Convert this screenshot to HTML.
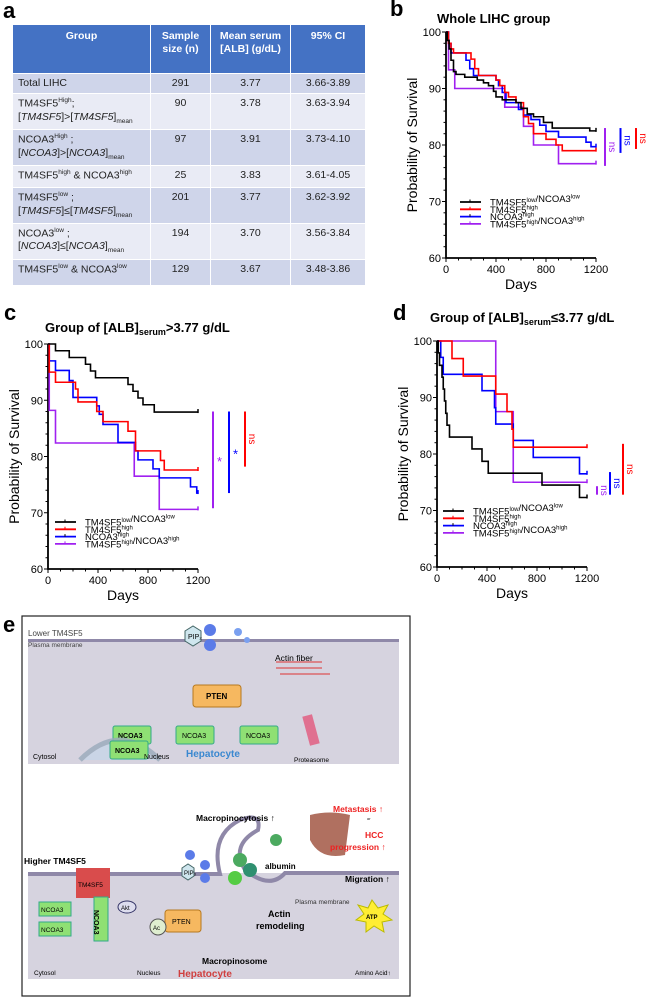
<!DOCTYPE html>
<html><head><meta charset="utf-8"><style>
body{margin:0;width:658px;height:999px;background:#fff;position:relative;overflow:hidden;font-family:"Liberation Sans",sans-serif}
.lab{position:absolute;font-weight:bold;font-size:22px}
table{position:absolute;left:12px;top:24px;border-collapse:collapse;font-size:10.5px;color:#222;table-layout:fixed;width:353px}
td,th{border:1.5px solid #fff;padding:3px 5px;vertical-align:top;line-height:1.25}
th{background:#4472C4;color:#fff;font-weight:bold;height:40px;text-align:center;font-size:10.5px;padding-top:5px}
tr.o td{background:#CFD5EA}tr.e td{background:#E9EBF5}
td.c{text-align:center}
sub,sup{font-size:6.5px}
</style></head><body>
<div class="lab" style="left:3px;top:-2px">a</div>
<div class="lab" style="left:390px;top:-4px">b</div>
<div class="lab" style="left:4px;top:300px">c</div>
<div class="lab" style="left:393px;top:300px">d</div>
<div class="lab" style="left:3px;top:612px">e</div>
<table>
<colgroup><col style="width:138px"><col style="width:60px"><col style="width:80px"><col style="width:75px"></colgroup>
<tr><th>Group</th><th>Sample size (n)</th><th>Mean serum [ALB] (g/dL)</th><th>95% CI</th></tr>
<tr class="o" style="height:20px"><td>Total LIHC</td><td class="c">291</td><td class="c">3.77</td><td class="c">3.66-3.89</td></tr>
<tr class="e" style="height:36px"><td>TM4SF5<sup>High</sup>;<br>[<i>TM4SF5</i>]&gt;[<i>TM4SF5</i>]<sub>mean</sub></td><td class="c">90</td><td class="c">3.78</td><td class="c">3.63-3.94</td></tr>
<tr class="o" style="height:34px"><td>NCOA3<sup>High</sup> ;<br>[<i>NCOA3</i>]&gt;[<i>NCOA3</i>]<sub>mean</sub></td><td class="c">97</td><td class="c">3.91</td><td class="c">3.73-4.10</td></tr>
<tr class="e" style="height:22px"><td>TM4SF5<sup>high</sup> &amp; NCOA3<sup>high</sup></td><td class="c">25</td><td class="c">3.83</td><td class="c">3.61-4.05</td></tr>
<tr class="o" style="height:35px"><td>TM4SF5<sup>low</sup> ;<br>[<i>TM4SF5</i>]≤[<i>TM4SF5</i>]<sub>mean</sub></td><td class="c">201</td><td class="c">3.77</td><td class="c">3.62-3.92</td></tr>
<tr class="e" style="height:36px"><td>NCOA3<sup>low</sup> ;<br>[<i>NCOA3</i>]≤[<i>NCOA3</i>]<sub>mean</sub></td><td class="c">194</td><td class="c">3.70</td><td class="c">3.56-3.84</td></tr>
<tr class="o" style="height:26px"><td>TM4SF5<sup>low</sup> &amp; NCOA3<sup>low</sup></td><td class="c">129</td><td class="c">3.67</td><td class="c">3.48-3.86</td></tr>
</table>

<svg id="s" width="658" height="999" style="position:absolute;left:0;top:0" font-family="Liberation Sans, sans-serif">
<g>
<rect x="22" y="616" width="388" height="380" fill="#fff" stroke="#222" stroke-width="1.2"/>
<rect x="28" y="639" width="371" height="125" fill="#d6d3df"/>
<rect x="28" y="639" width="371" height="3" fill="#8f88a8"/>
<text x="28" y="636" font-size="8" fill="#444">Lower TM4SF5</text>
<text x="28" y="647" font-size="6.5" fill="#444">Plasma membrane</text>
<polygon points="185,631 193,626 201,631 201,641 193,646 185,641" fill="#cfe6ee" stroke="#466"/>
<text x="188" y="639" font-size="7">PIP₂</text>
<circle cx="210" cy="630" r="6" fill="#5b7be8"/><circle cx="210" cy="645" r="6" fill="#5b7be8"/>
<circle cx="238" cy="632" r="4" fill="#7aa0f0"/><circle cx="247" cy="640" r="3" fill="#7aa0f0"/>
<text x="275" y="661" font-size="8.5">Actin fiber</text>
<g stroke="#d33" stroke-width="1"><line x1="276" y1="662" x2="322" y2="662"/><line x1="276" y1="668" x2="322" y2="668"/><line x1="280" y1="674" x2="330" y2="674"/></g>
<rect x="193" y="685" width="48" height="22" rx="3" fill="#f6b860" stroke="#b7791f"/>
<text x="206" y="699" font-size="8" font-weight="bold">PTEN</text>
<rect x="113" y="726" width="38" height="18" rx="2" fill="#8fe074" stroke="#3a8"/><text x="118" y="738" font-size="7" font-weight="bold">NCOA3</text>
<rect x="176" y="726" width="38" height="18" rx="2" fill="#8fe074" stroke="#3a8"/><text x="182" y="738" font-size="7">NCOA3</text>
<rect x="240" y="726" width="38" height="18" rx="2" fill="#8fe074" stroke="#3a8"/><text x="246" y="738" font-size="7">NCOA3</text>
<rect x="306" y="715" width="10" height="30" fill="#e07090" transform="rotate(-15 311 730)"/>
<text x="294" y="762" font-size="6.5">Proteasome</text>
<path d="M80 760 Q120 720 160 760" fill="#c8d6e8" stroke="#9ab" stroke-width="5" opacity=".8"/>
<rect x="110" y="741" width="38" height="18" rx="2" fill="#8fe074" stroke="#3a8"/><text x="115" y="753" font-size="7" font-weight="bold">NCOA3</text>
<text x="33" y="759" font-size="7">Cytosol</text><text x="144" y="759" font-size="7">Nucleus</text>
<text x="186" y="757" font-size="10" font-weight="bold" fill="#3a88d0">Hepatocyte</text>
<rect x="28" y="873" width="371" height="106" fill="#d6d3df"/>
<path d="M28 874 H220 Q210 835 240 820 Q262 812 258 830 Q230 845 245 870 Q270 890 285 873 H399" fill="none" stroke="#8f88a8" stroke-width="4"/>
<text x="24" y="864" font-size="8.5" font-weight="bold">Higher TM4SF5</text>
<rect x="76" y="868" width="34" height="30" fill="#d94c4c"/>
<text x="78" y="887" font-size="6.5">TM4SF5</text>
<rect x="94" y="897" width="14" height="44" fill="#8fe074" stroke="#3a8"/>
<text x="104" y="920" font-size="7" font-weight="bold" transform="rotate(90 104 910)">NCOA3</text>
<rect x="39" y="902" width="32" height="14" fill="#8fe074" stroke="#3a8"/><text x="41" y="912" font-size="6.5">NCOA3</text>
<rect x="39" y="922" width="32" height="14" fill="#8fe074" stroke="#3a8"/><text x="41" y="932" font-size="6.5">NCOA3</text>
<rect x="165" y="910" width="36" height="22" rx="3" fill="#f6b860" stroke="#b7791f"/><text x="172" y="924" font-size="7">PTEN</text>
<circle cx="158" cy="927" r="8" fill="#dfeed0" stroke="#555"/><text x="153" y="930" font-size="6">Ac</text>
<ellipse cx="127" cy="907" rx="9" ry="6" fill="#dde" stroke="#336"/><text x="121" y="910" font-size="6">Akt</text>
<polygon points="182,868 188,864 194,868 194,876 188,880 182,876" fill="#cfe6ee" stroke="#466"/><text x="184" y="875" font-size="6">PIP₃</text>
<circle cx="190" cy="855" r="5" fill="#5b7be8"/><circle cx="205" cy="865" r="5" fill="#5b7be8"/><circle cx="205" cy="878" r="5" fill="#5b7be8"/>
<text x="196" y="821" font-size="8.5" font-weight="bold">Macropinocytosis ↑</text>
<circle cx="240" cy="860" r="7" fill="#4caa60"/><circle cx="250" cy="870" r="7" fill="#2f9070"/><circle cx="235" cy="878" r="7" fill="#5c4"/>
<circle cx="276" cy="840" r="6" fill="#4caa60"/>
<text x="265" y="869" font-size="8" font-weight="bold">albumin</text>
<text x="268" y="917" font-size="9" font-weight="bold">Actin</text><text x="256" y="929" font-size="9" font-weight="bold">remodeling</text>
<text x="295" y="904" font-size="6.5" fill="#333">Plasma membrane</text>
<text x="202" y="964" font-size="8.5" font-weight="bold">Macropinosome</text>
<text x="34" y="975" font-size="6.5">Cytosol</text><text x="137" y="975" font-size="6.5">Nucleus</text>
<text x="178" y="977" font-size="10" font-weight="bold" fill="#d04040">Hepatocyte</text>
<path d="M310 815 Q330 810 350 815 L345 855 Q320 860 310 840 Z" fill="#b07060"/>
<text x="333" y="812" font-size="8.5" font-weight="bold" fill="#e22">Metastasis ↑</text>
<text x="367" y="820" font-size="4">or</text>
<text x="365" y="838" font-size="8.5" font-weight="bold" fill="#e22">HCC</text>
<text x="330" y="850" font-size="8.5" font-weight="bold" fill="#e22">progression ↑</text>
<text x="345" y="882" font-size="8.5" font-weight="bold">Migration ↑</text>
<polygon points="372,900 378,908 388,905 383,914 392,920 382,922 384,932 374,926 366,932 366,922 356,920 364,914 358,905 368,908" fill="#ffee33" stroke="#bb0"/>
<text x="366" y="919" font-size="6" font-weight="bold">ATP</text>
<text x="355" y="975" font-size="6.5">Amino Acid↑</text>
</g>
</svg>
<script>
const panelBTitle="Whole LIHC group";
const seriesNames=["TM4SF5low/NCOA3low","TM4SF5high","NCOA3high","TM4SF5high/NCOA3high"];
const seriesColors=["#000","#f00","#00f","#a020f0"];
const yTicks=[60,70,80,90,100];
const xTicks=[0,400,800,1200];
const bBlackT=[0,10,25,40,60,80,150,250,300,340,380,400,450,560,600,650,700,780,850,1150];
const bBlackV=[100,98.5,97,95,93,92.5,92,91.5,91,90.5,89.5,88.5,88,87.5,86.5,85.5,85,84,83,82.5];
const bRedT=[0,20,40,60,200,230,260,400,430,470,500,560,620,660,700,800,880,930];
const bRedV=[100,98,97,96.3,95.2,93.5,92.3,91.5,90.5,89.3,88.5,87.5,85,83.8,82,81,80,79];
const bBlueT=[0,20,40,160,190,220,400,420,450,480,580,620,680,750,800,900,1120,1160];
const bBlueV=[100,98,96.3,95,93.5,92.3,91.5,90.5,89.3,87.5,86.3,85.3,84.5,83.5,82.4,81.4,80.5,79.7];
const bPurT=[0,20,70,470,620,700,900];
const bPurV=[100,93.3,90,86.7,83.3,80,76.7];
const cBlackT=[0,60,170,300,340,380,640,680,720,760,850];
const cBlackV=[100,98.8,97.6,96.4,95.2,94,92.8,91.6,90.4,89.2,87.9];
const cRedT=[0,10,60,220,240,390,440,640,700,900,930];
const cRedV=[100,95,93.2,92,89.7,88,86.2,84.5,81,79.3,77.6];
const cBlueT=[0,10,60,170,200,390,410,440,560,700,720,840,890,1140,1190];
const cBlueV=[100,97,95.3,93.5,90.5,89,87.5,85.7,82.5,81,79.4,77.8,76.2,74.6,73.5];
const cPurT=[0,10,60,690,890];
const cPurV=[100,88.2,82.4,76.5,70.6];
const dBlackT=[0,10,20,40,50,60,70,80,100,280,360,410,840,1140];
const dBlackV=[100,97.9,95.7,93.6,91.5,89.4,87.2,85.1,83,80.9,78.7,76.6,74.5,72.3];
const dRedT=[0,120,210,470,560,600,610];
const dRedV=[100,96.9,93.8,90.6,87.5,84.4,81.2];
const dBlueT=[0,30,50,360,460,470,610,770,1140];
const dBlueV=[100,97.1,94.1,91.2,88.2,85.3,82.4,79.4,76.5];
const dPurT=[0,470,610];
const dPurV=[100,87.5,75];
const bSig=[["ns",83,76.3],["ns",83,78.6],["ns",83,79.3]];
const cSig=[["*",88,70.8],["*",88,73.5],["ns",88,78.2]];
const dSig=[["ns",74.3,72.8],["ns",76.8,72.8],["ns",81.8,72.8]];

const NS="http://www.w3.org/2000/svg";
const svg=document.getElementById('s');
function el(tag,attrs,parent,txt){const e=document.createElementNS(NS,tag);for(const k in attrs)e.setAttribute(k,attrs[k]);if(txt!==undefined)e.textContent=txt;(parent||svg).appendChild(e);return e;}

function km(cfg){
  const g=el('g',{});
  
  
  const X=t=>cfg.x0+(t/1200)*(cfg.x1-cfg.x0);
  const Y=v=>cfg.y1+(v-60)/40*(cfg.y0-cfg.y1);
  const tt=el('text',{x:cfg.tx,y:cfg.ty,'font-size':13,'font-weight':'bold'},g);
  
  
  if(cfg.sub){tt.appendChild(document.createTextNode(cfg.title[0]));el('tspan',{'font-size':9,dy:3},tt,cfg.title[1]);el('tspan',{dy:-3},tt,cfg.title[2]);}
  else tt.textContent=cfg.title;
  const ax=el('path',{d:`M${cfg.x0} ${cfg.y0} V${cfg.y1} H${cfg.x1}`,stroke:'#000','stroke-width':1.8,fill:'none'},g);
  
  
  for(let v=60;v<=100;v+=2){el('line',{x1:cfg.x0-(v%10==0?4:2.5),x2:cfg.x0,y1:Y(v),y2:Y(v),stroke:'#000','stroke-width':1},g);}
  yTicks.forEach(v=>{const t=el('text',{x:cfg.x0-5,y:Y(v)+4,'font-size':11,'text-anchor':'end'},g,v);
    
    });
  for(let t=0;t<=1200;t+=100){el('line',{x1:X(t),x2:X(t),y1:cfg.y1,y2:cfg.y1+(t%400==0?4:2.5),stroke:'#000','stroke-width':1},g);}
  xTicks.forEach(v=>{const t=el('text',{x:X(v),y:cfg.y1+15,'font-size':11,'text-anchor':'middle'},g,v);
    
    });
  const xl=el('text',{x:(cfg.x0+cfg.x1)/2,y:cfg.y1+31,'font-size':14,'text-anchor':'middle'},g,'Days');
  
  
  const yx=cfg.x0-29,yy=(cfg.y0+cfg.y1)/2;
  const yl=el('text',{x:yx,y:yy,'font-size':14,'text-anchor':'middle',transform:`rotate(-90 ${yx} ${yy})`},g,'Probability of Survival');
  
  
  [3,2,1,0].forEach(i=>{
    const T=cfg.series[i][0],V=cfg.series[i][1];
    let d=`M${X(T[0])} ${Y(V[0])}`;
    for(let k=1;k<T.length;k++)d+=` H${X(T[k])} V${Y(V[k])}`;
    d+=` H${X(1200)}`;
    const p=el('path',{d,stroke:seriesColors[i],'stroke-width':1.6,fill:'none'},g);
    
    
    const lv=V[V.length-1];
    el('line',{x1:X(1200),x2:X(1200),y1:Y(lv)-3,y2:Y(lv)+1,stroke:seriesColors[i],'stroke-width':1.5},g);
  });
  seriesNames.forEach((n,i)=>{
    const y=cfg.ly+i*7.3;
    const ln=el('line',{x1:cfg.lx,x2:cfg.lx+21,y1:y,y2:y,stroke:seriesColors[i],'stroke-width':1.8},g);
    
    
    el('line',{x1:cfg.lx+10,x2:cfg.lx+10,y1:y-2.5,y2:y,stroke:i==2?'#000':seriesColors[i],'stroke-width':1},g);
    const t=el('text',{x:cfg.lx+30,y:y+3.5,'font-size':9.5},g);
    
    
    const parts=n.match(/[A-Z0-9]+|low|high|\//g);
    parts.forEach(p=>{if(p=='low'||p=='high'){el('tspan',{'font-size':6,dy:-3.5},t,p);el('tspan',{dy:3.5},t,'');}else el('tspan',{},t,p);});
  });
  cfg.sig.forEach((s,i)=>{
    const x=cfg.sx+i*cfg.sdx;
    const b=el('line',{x1:x,x2:x,y1:Y(s[1]),y2:Y(s[2]),stroke:seriesColors[3-i],'stroke-width':2},g);
    
    
    const my=(Y(s[1])+Y(s[2]))/2;
    if(s[0]=='*'){el('text',{x:x+4,y:my+6,'font-size':13,fill:seriesColors[3-i]},g,'*');}
    else{const tx=x+4;el('text',{x:tx,y:my,'font-size':10,fill:seriesColors[3-i],'text-anchor':'middle',transform:`rotate(90 ${tx} ${my})`},g,'ns');}
  });
}
km({name:'km-whole-lihc',x0:446,x1:596,y0:32,y1:258,title:panelBTitle,tx:437,ty:23,
  series:[[bBlackT,bBlackV],[bRedT,bRedV],[bBlueT,bBlueV],[bPurT,bPurV]],lx:460,ly:202,sig:bSig,sx:605,sdx:15.5});
km({name:'km-alb-high',x0:48,x1:198,y0:344,y1:569,sub:true,title:['Group of [ALB]','serum','>3.77 g/dL'],tx:45,ty:332,
  series:[[cBlackT,cBlackV],[cRedT,cRedV],[cBlueT,cBlueV],[cPurT,cPurV]],lx:55,ly:522,sig:cSig,sx:213,sdx:16});
km({name:'km-alb-low',x0:437,x1:587,y0:341,y1:567,sub:true,title:['Group of [ALB]','serum','≤3.77 g/dL'],tx:430,ty:322,
  series:[[dBlackT,dBlackV],[dRedT,dRedV],[dBlueT,dBlueV],[dPurT,dPurV]],lx:443,ly:511,sig:dSig,sx:597,sdx:13});
</script>
</body></html>
